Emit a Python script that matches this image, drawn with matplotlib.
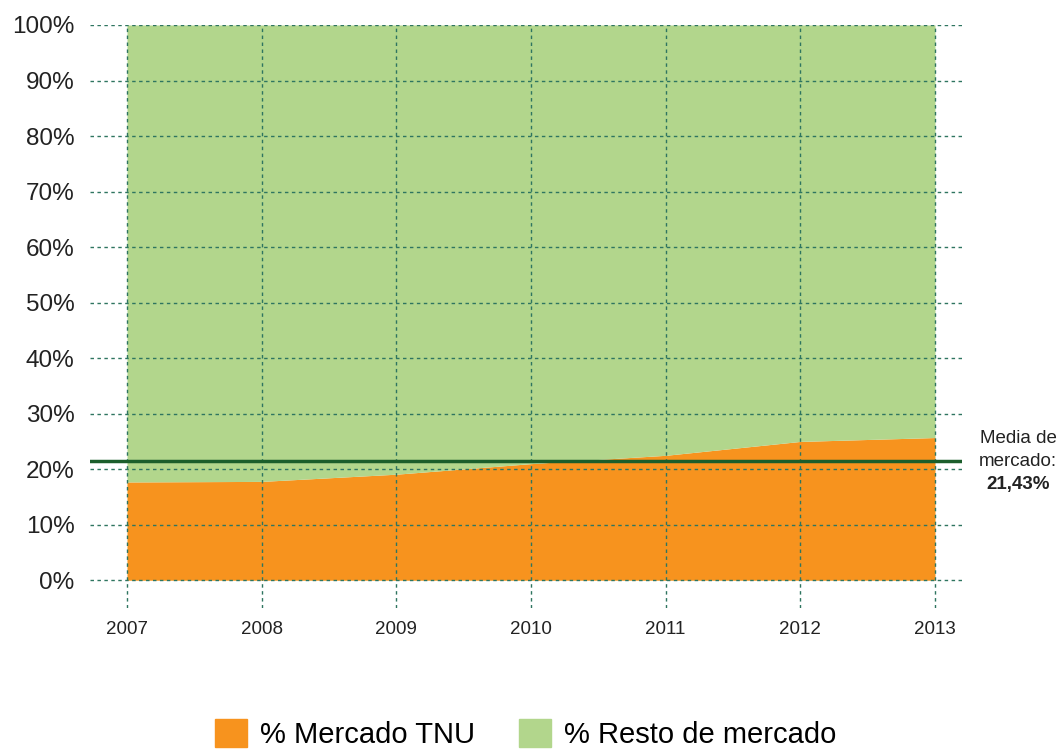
import matplotlib
matplotlib.use("Agg")
import matplotlib.pyplot as plt
from matplotlib.patches import Patch

years = [2007, 2008, 2009, 2010, 2011, 2012, 2013]
tnu = [17.7, 17.8, 19.1, 21.0, 22.5, 25.0, 25.7]
total = [100] * 7
media = 21.43
yticks = list(range(0, 101, 10))
series_labels = ["% Mercado TNU", "% Resto de mercado"]

orange = "#f7931e"
green = "#b2d68c"
gridc = "#2e7560"

plt.rcParams['font.family'] = ['Liberation Sans', 'DejaVu Sans']

fig = plt.figure(figsize=(10.61, 7.53), dpi=100)
ax = fig.add_axes([90/1061, 1-608/753, (962-90)/1061, (608-25)/753])

ax.fill_between(years, 0, tnu, color=orange, lw=0, zorder=1)
ax.fill_between(years, tnu, total, color=green, lw=0, zorder=1)

ax.set_xlim(2007 - 37/134.7, 2013 + 27/134.7)
ax.set_ylim(-5, 100)
ax.set_yticks(yticks)
ax.set_yticklabels([f"{v}%" for v in yticks], fontsize=17.5, color="#222222")
ax.set_xticks(years)
ax.set_xticklabels([str(y) for y in years], fontsize=13.5, color="#222222")
ax.tick_params(length=0)
ax.tick_params(axis='y', pad=11)
ax.tick_params(axis='x', pad=9)
for s in ax.spines.values():
    s.set_visible(False)

for v in yticks:
    ax.axhline(v, color=gridc, lw=1, ls=(0, (2.5, 2.5)), zorder=3)
for y in years:
    ax.axvline(y, color=gridc, lw=1, ls=(0, (2.5, 2.5)), zorder=3)

ax.axhline(media, color="#1b5e2b", lw=2.5, zorder=4)

fig.text(1018/1061, 1-438/753, "Media de", ha="center", va="center", fontsize=13.5, color="#222222")
fig.text(1018/1061, 1-461/753, "mercado:", ha="center", va="center", fontsize=13.5, color="#222222")
fig.text(1018/1061, 1-484/753, "21,43%", ha="center", va="center", fontsize=13.5, fontweight="bold", color="#222222")

handles = [Patch(color=orange), Patch(color=green)]
fig.legend(handles, series_labels, loc="lower center", bbox_to_anchor=(526/1061, -0.03),
           ncol=2, frameon=False, fontsize=21, handlelength=1.1, handleheight=1.1,
           handletextpad=0.45, columnspacing=1.5)

fig.savefig("out.png", dpi=100)
